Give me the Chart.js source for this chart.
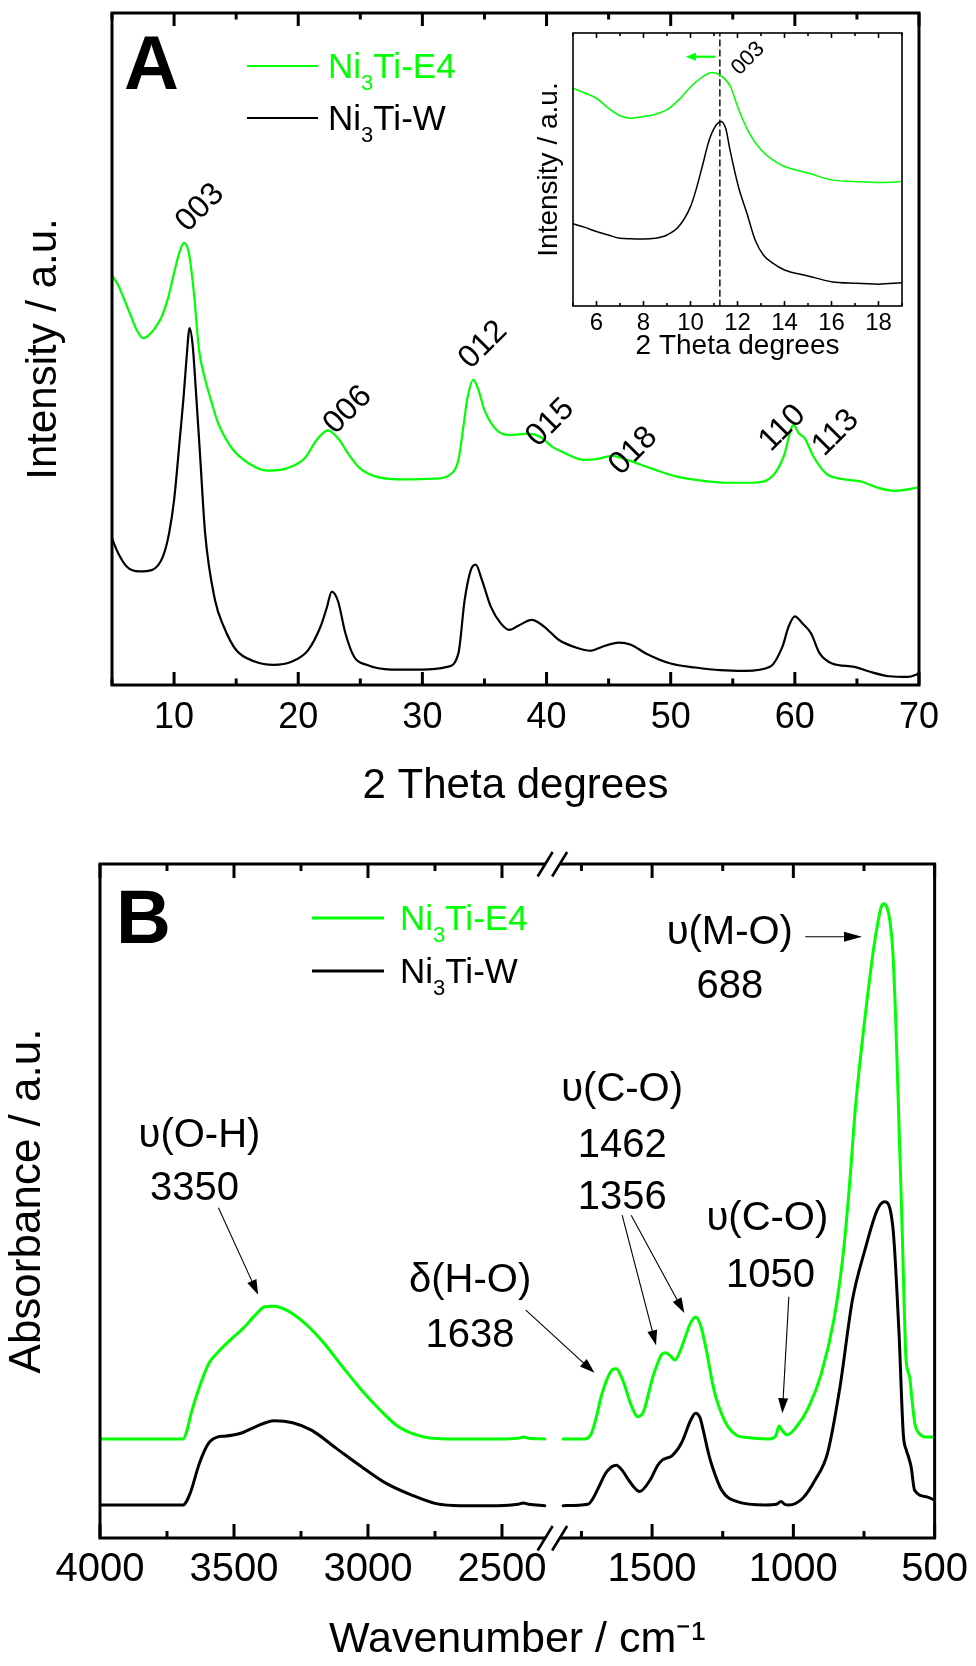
<!DOCTYPE html>
<html>
<head>
<meta charset="utf-8">
<title>Ni3Ti XRD and FTIR</title>
<script src="https://cdn.jsdelivr.net/npm/chart.js@4.4.1/dist/chart.umd.min.js"></script>
<style>
  html, body { margin: 0; padding: 0; background: #fff; }
  #page { position: relative; width: 976px; height: 1666px; overflow: hidden; background: #fff; }
  #page canvas { position: absolute; display: block; }
</style>
</head>
<body>
<div id="page">
  <canvas id="chartA" width="976" height="830" style="left:0px;top:0px"></canvas>
  <canvas id="chartInset" width="400" height="360" style="left:520px;top:20px"></canvas>
  <canvas id="chartB" width="976" height="836" style="left:0px;top:830px"></canvas>
</div>
<script>
// ================= DATA =================
const seriesNames = ['Ni₃Ti-E4', 'Ni₃Ti-W'];

// Panel A : XRD (2 theta, intensity a.u.)
const xrdE4Theta = [5,5.5,6,6.5,7,7.5,8,8.5,9,9.5,10,10.4,10.8,11.2,11.6,12,12.5,13,13.5,14,14.75,16,17.5,19,20.5,21.5,22.4,23.3,24,25,26.5,28.5,31,32.3,32.9,33.3,33.6,34.1,34.5,35,36,37,38.5,39.5,40.5,41.5,43,44,45.3,46.5,48.5,50.5,52.5,54.5,56.6,58.3,59.1,59.9,60.3,60.8,61.5,62.5,64,65.3,66.6,68,70];
const xrdE4Int = [61.0,59.5,57.3,55.0,52.8,51.6,52.1,53.2,54.8,57.5,61.3,64.2,65.8,64.2,58.3,50.0,45.5,42.2,39.2,37.2,35.0,33.0,31.9,32.2,33.7,36.5,37.9,36.5,34.5,32.2,30.9,30.6,30.7,31.4,33.5,38.4,42.4,45.4,44.0,40.9,37.9,37.2,37.4,36.9,35.4,34.5,33.5,33.6,34.1,33.5,32.2,31.0,30.4,30.1,30.1,31.3,34.0,38.7,37.5,36.7,34.0,31.5,30.6,30.3,29.4,28.9,29.4];
const xrdWTheta = [5,5.5,6.2,7.2,8.2,9.1,9.6,10,10.5,10.75,11,11.25,11.5,11.75,12.1,12.5,13.3,14,15,16.5,18,19.5,20.8,21.8,22.3,22.7,23.2,23.8,24.5,25.5,27.5,30,32,32.9,33.4,33.9,34.3,34.8,35.5,36.3,37,37.8,38.8,39.8,41,42.5,43.5,44.5,45.8,46.8,48,50,52,54,56,58,59,59.5,60,60.6,61.3,62,63,64.8,66,67.6,69.1,70];
const xrdWInt = [21.8,19.6,17.6,16.9,17.1,19.1,22.6,27.5,37.4,42.5,48.5,53.1,50.5,44.0,34.0,22.6,12.6,8.7,5.2,3.5,3.0,3.5,5.2,8.7,11.5,13.9,12.5,7.7,4.2,3.0,2.3,2.3,2.7,4.7,12.6,17.1,17.9,15.6,11.7,9.2,8.2,8.9,9.7,8.7,6.7,5.5,5.1,5.7,6.3,6.0,4.7,3.2,2.6,2.2,2.1,2.7,5.7,8.7,10.2,9.2,7.7,4.7,3.2,2.7,2.0,1.3,1.2,1.7];
const xrdTickLabels = [10,20,30,40,50,60,70];
const xrdMinorTicks = [5,15,25,35,45,55,65];
const hklLabels = ['003','006','012','015','018','110','113'];

// Inset : 003 reflection
const insetE4Theta = [5,5.5,6,6.5,7,7.5,8,8.5,9,9.5,10,10.5,10.9,11.3,11.7,12,12.5,13,13.5,14,15,16,17,18,19];
const insetE4Int = [79.8,78.0,76.1,72.5,69.7,68.8,69.4,70.2,71.9,75.5,80.2,83.8,85.5,84.3,80.4,73.1,63.3,57.2,53.5,51.1,48.7,46.2,45.6,45.2,45.6];
const insetWTheta = [5,5.5,6,6.5,7,7.5,8,8.5,9,9.5,10,10.25,10.5,10.8,11.1,11.3,11.5,11.68,12.04,12.4,12.75,13.1,13.5,14,15,16,17,18,19];
const insetWInt = [30.1,28.8,27.3,26.0,24.8,24.6,24.5,24.8,26.0,29.1,36.4,43.0,51.1,60.9,66.4,67.6,65.0,57.2,43.7,34.0,24.2,18.7,15.7,13.2,11.0,8.9,8.3,8.0,8.5];
const insetPeakTheta = 11.25;
const insetTickLabels = [6,8,10,12,14,16,18];
const insetMinorTicks = [5,7,9,11,13,15,17,19];

// Panel B : FTIR (wavenumber cm-1, absorbance a.u.), broken axis
const irE4HighWn = [4000,3690,3675,3660,3629,3594,3559,3513,3466,3420,3385,3350,3304,3234,3164,3095,3025,2955,2886,2793,2700,2515,2440,2420,2400,2340];
const irE4HighAbs = [14.7,14.7,16.0,18.5,22.4,25.9,27.6,29.4,31.1,33.1,34.3,34.4,33.8,31.8,28.9,25.4,22.0,19.0,16.5,15.0,14.7,14.7,14.8,15.0,14.8,14.7];
const irE4LowWn = [1815,1738,1715,1700,1680,1660,1640,1627,1612,1595,1575,1551,1530,1518,1500,1485,1465,1451,1435,1419,1400,1386,1365,1346,1328,1308,1290,1275,1250,1231,1200,1165,1088,1062,1050,1040,1022,989,945,901,857,824,802,780,747,714,700,690,680,668,658,648,637,626,615,608,602,595,588,580,570,554,530,500];
const irE4LowAbs = [14.7,14.7,15.5,17.5,21.0,23.5,25.0,25.1,24.2,22.4,19.8,18.0,18.8,20.5,23.5,25.4,27.3,27.5,27.0,26.4,27.8,29.4,31.8,32.8,31.5,27.9,23.8,21.0,18.0,16.5,15.2,14.9,14.7,15.2,16.6,16.0,15.3,16.5,19.5,24.4,32.3,42.0,52.0,64.0,77.0,88.0,91.5,93.5,94.1,93.5,91.5,87.0,76.0,61.0,46.0,35.0,27.0,24.8,23.8,20.5,17.0,15.5,15.0,15.0];
const irWHighWn = [4000,3690,3664,3629,3594,3560,3536,3478,3420,3350,3281,3211,3118,3025,2932,2839,2746,2654,2515,2440,2420,2400,2340];
const irWHighAbs = [4.9,4.9,6.6,11.1,14.1,15.0,15.1,15.5,16.5,17.4,17.1,16.0,13.3,10.6,8.1,6.4,5.1,4.8,4.8,5.0,5.2,5.0,4.8];
const irWLowWn = [1815,1727,1710,1694,1661,1627,1605,1583,1544,1507,1480,1463,1430,1396,1363,1346,1330,1319,1300,1287,1254,1199,1099,1060,1044,1030,1016,967,923,879,835,791,747,703,677,648,626,611,600,593,583,571,527,500];
const irWLowAbs = [4.8,5.0,5.8,7.1,9.8,10.8,10.0,8.6,6.9,8.6,10.8,11.6,12.2,14.1,17.5,18.5,17.8,16.0,12.5,10.6,7.1,5.4,4.9,5.0,5.4,5.0,4.9,5.9,8.6,12.6,22.4,35.3,42.7,48.7,49.9,46.2,30.3,15.5,13.0,12.1,10.5,7.1,6.1,5.6];
const irTickLabelsHigh = [4000,3500,3000,2500];
const irMinorTicksHigh = [3750,3250,2750];
const irTickLabelsLow = [1500,1000,500];
const irMinorTicksLow = [1750,1250,750];
const irRangeHigh = [2311, 4000];
const irRangeLow = [500, 1852];

// ================= HELPERS =================
const GREEN = '#00ff00';
const FONT = "'Liberation Sans', Arial, Helvetica, sans-serif";
Chart.defaults.font.family = FONT;
Chart.defaults.color = '#000';

const pts = (xs, ys) => xs.map((x, i) => ({ x: x, y: ys[i] }));
const SUB = { '₀':'0','₁':'1','₂':'2','₃':'3','₄':'4','₅':'5','₆':'6','₇':'7','₈':'8','₉':'9' };

function drawRich(ctx, text, x, baseline, size, color) {
  ctx.save();
  ctx.fillStyle = color; ctx.textAlign = 'left'; ctx.textBaseline = 'alphabetic';
  const runs = [];
  for (const ch of text) {
    const sub = !!SUB[ch];
    const c = sub ? SUB[ch] : ch;
    if (runs.length && runs[runs.length - 1].sub === sub) runs[runs.length - 1].t += c;
    else runs.push({ sub: sub, t: c });
  }
  let cx = x;
  for (const r of runs) {
    const s = r.sub ? Math.round(size * 0.62) : size;
    ctx.font = s + 'px ' + FONT;
    ctx.fillText(r.t, cx, baseline + (r.sub ? size * 0.32 : 0));
    cx += ctx.measureText(r.t).width;
  }
  ctx.restore();
}

function drawArrow(ctx, x1, y1, x2, y2, color, lw, headLen, headW) {
  const ang = Math.atan2(y2 - y1, x2 - x1);
  const c = Math.cos(ang), s = Math.sin(ang);
  ctx.save();
  ctx.strokeStyle = color; ctx.fillStyle = color; ctx.lineWidth = lw;
  ctx.beginPath(); ctx.moveTo(x1, y1); ctx.lineTo(x2 - c * headLen * 0.7, y2 - s * headLen * 0.7); ctx.stroke();
  ctx.beginPath();
  ctx.moveTo(x2, y2);
  ctx.lineTo(x2 - headLen * c + headW * s, y2 - headLen * s - headW * c);
  ctx.lineTo(x2 - headLen * c - headW * s, y2 - headLen * s + headW * c);
  ctx.closePath(); ctx.fill();
  ctx.restore();
}

function drawText(ctx, text, x, y, size, color, rot, bold) {
  ctx.save();
  ctx.translate(x, y);
  if (rot) ctx.rotate(rot);
  ctx.font = (bold ? 'bold ' : '') + size + 'px ' + FONT;
  ctx.fillStyle = color; ctx.textAlign = 'center'; ctx.textBaseline = 'middle';
  ctx.fillText(text, 0, 0);
  ctx.restore();
}

// frame + inward ticks + extras
function decoPlugin(cfg) {
  return {
    id: 'deco',
    afterDatasetsDraw(chart) {
      const ctx = chart.ctx, a = chart.chartArea;
      ctx.save();
      ctx.strokeStyle = '#000';
      ctx.lineWidth = cfg.frameWidth;
      ctx.lineJoin = 'miter';
      ctx.strokeRect(a.left, a.top, a.right - a.left, a.bottom - a.top);
      ctx.lineCap = 'butt';
      for (const t of cfg.ticks) {
        const sc = chart.scales[t.scale];
        const tk = (v, len) => {
          const px = sc.getPixelForValue(v);
          ctx.beginPath();
          ctx.moveTo(px, a.bottom); ctx.lineTo(px, a.bottom - len);
          ctx.moveTo(px, a.top); ctx.lineTo(px, a.top + len);
          ctx.stroke();
        };
        t.major.forEach(v => tk(v, cfg.majorLen));
        t.minor.forEach(v => tk(v, cfg.minorLen));
      }
      if (cfg.breakScale) {
        const bx = chart.scales[cfg.breakScale].right;
        for (const yy of [a.top, a.bottom]) {
          ctx.fillStyle = '#fff';
          ctx.fillRect(bx - 7.5, yy - cfg.frameWidth, 14.5, cfg.frameWidth * 2);
          ctx.strokeStyle = '#000'; ctx.lineWidth = 2.6;
          ctx.beginPath();
          ctx.moveTo(bx - 15, yy + 12.5); ctx.lineTo(bx, yy - 12);
          ctx.moveTo(bx - 0.5, yy + 12.5); ctx.lineTo(bx + 14.5, yy - 12);
          ctx.stroke();
        }
      }
      ctx.restore();
      if (cfg.extra) cfg.extra(chart, ctx, a);
    }
  };
}

function drawLegend(ctx, a, entries, opt) {
  entries.forEach((e, i) => {
    const y = a.top + opt.rowY[i];
    ctx.save();
    ctx.strokeStyle = e.color; ctx.lineWidth = opt.lineWidth;
    ctx.beginPath(); ctx.moveTo(a.left + opt.x0, y); ctx.lineTo(a.left + opt.x1, y); ctx.stroke();
    ctx.restore();
    drawRich(ctx, e.label, a.left + opt.tx, y + opt.size * 0.357, opt.size, e.color);
  });
}

function baseOptions(pad) {
  return {
    responsive: false,
    animation: false,
    devicePixelRatio: 1,
    layout: { padding: pad },
    plugins: { legend: { display: false }, tooltip: { enabled: false } },
    elements: { point: { radius: 0, hoverRadius: 0 }, line: { cubicInterpolationMode: 'monotone', borderCapStyle: 'round', borderJoinStyle: 'round' } },
    events: []
  };
}

const hiddenGrid = { display: false, drawTicks: false };

// ================= PANEL A =================
const hklAnno = [
  { x: 12.1, y: 71.0 }, { x: 24.0, y: 40.9 }, { x: 34.9, y: 50.6 }, { x: 40.3, y: 39.0 },
  { x: 47.0, y: 34.8 }, { x: 59.0, y: 38.2 }, { x: 63.3, y: 37.5 }
];

const optA = baseOptions({ top: 13, right: 57, left: 0, bottom: 0 });
optA.scales = {
  x: {
    type: 'linear', position: 'bottom', min: 5, max: 70,
    afterBuildTicks: s => { s.ticks = xrdTickLabels.map(v => ({ value: v })); },
    ticks: { autoSkip: false, maxRotation: 0, padding: 11, font: { size: 36 }, color: '#000', callback: v => String(v) },
    grid: hiddenGrid, border: { display: false },
    title: { display: true, text: '2 Theta degrees', font: { size: 42 }, color: '#000', padding: { top: 0, bottom: 18 } },
    afterFit: s => { s.height = 145; }
  },
  y: {
    type: 'linear', position: 'left', min: 0, max: 100,
    ticks: { display: false }, grid: hiddenGrid, border: { display: false },
    title: { display: true, text: 'Intensity / a.u.', font: { size: 42 }, color: '#000', padding: { top: 19, bottom: 0 } },
    afterFit: s => { s.width = 112; }
  }
};

new Chart(document.getElementById('chartA'), {
  type: 'line',
  data: {
    datasets: [
      { label: seriesNames[0], data: pts(xrdE4Theta, xrdE4Int), borderColor: GREEN, borderWidth: 2.2, fill: false },
      { label: seriesNames[1], data: pts(xrdWTheta, xrdWInt), borderColor: '#000', borderWidth: 2.2, fill: false }
    ]
  },
  options: optA,
  plugins: [decoPlugin({
    frameWidth: 3, majorLen: 13, minorLen: 6.5,
    ticks: [{ scale: 'x', major: xrdTickLabels, minor: xrdMinorTicks }],
    extra: (chart, ctx, a) => {
      const xs = chart.scales.x, ys = chart.scales.y;
      hklLabels.forEach((t, i) => {
        drawText(ctx, t, xs.getPixelForValue(hklAnno[i].x), ys.getPixelForValue(hklAnno[i].y), 32, '#000', -Math.PI / 4);
      });
      drawLegend(ctx, a, chart.data.datasets.map(d => ({ label: d.label, color: d.borderColor })),
        { x0: 135, x1: 206, tx: 216, rowY: [53, 105], size: 35, lineWidth: 2.2 });
      ctx.save();
      ctx.font = 'bold 76px ' + FONT; ctx.fillStyle = '#000'; ctx.textBaseline = 'alphabetic'; ctx.textAlign = 'left';
      ctx.fillText('A', a.left + 12, a.top + 76);
      ctx.restore();
    }
  })]
});

// ================= INSET =================
const optI = baseOptions({ top: 13, right: 18, left: 0, bottom: 0 });
optI.scales = {
  x: {
    type: 'linear', position: 'bottom', min: 5, max: 19,
    afterBuildTicks: s => { s.ticks = insetTickLabels.map(v => ({ value: v })); },
    ticks: { autoSkip: false, maxRotation: 0, padding: 2.6, font: { size: 24 }, color: '#000', callback: v => String(v) },
    grid: hiddenGrid, border: { display: false },
    title: { display: true, text: '2 Theta degrees', font: { size: 28 }, color: '#000', padding: { top: 0, bottom: 17 } },
    afterFit: s => { s.height = 74; }
  },
  y: {
    type: 'linear', position: 'left', min: 0, max: 100,
    ticks: { display: false }, grid: hiddenGrid, border: { display: false },
    title: { display: true, text: 'Intensity / a.u.', font: { size: 28 }, color: '#000', padding: { top: 12.2, bottom: 0 } },
    afterFit: s => { s.width = 53; }
  }
};

new Chart(document.getElementById('chartInset'), {
  type: 'line',
  data: {
    datasets: [
      { label: seriesNames[0], data: pts(insetE4Theta, insetE4Int), borderColor: GREEN, borderWidth: 1.5, fill: false },
      { label: seriesNames[1], data: pts(insetWTheta, insetWInt), borderColor: '#000', borderWidth: 1.5, fill: false },
      { label: '003 position', data: [{ x: insetPeakTheta, y: 0 }, { x: insetPeakTheta, y: 100 }], borderColor: '#000', borderWidth: 1.4, borderDash: [6, 4], fill: false }
    ]
  },
  options: optI,
  plugins: [decoPlugin({
    frameWidth: 1.6, majorLen: 5, minorLen: 3,
    ticks: [{ scale: 'x', major: insetTickLabels, minor: insetMinorTicks }],
    extra: (chart, ctx, a) => {
      const xs = chart.scales.x, ys = chart.scales.y;
      drawArrow(ctx, xs.getPixelForValue(11.05), ys.getPixelForValue(91.3), xs.getPixelForValue(9.8), ys.getPixelForValue(91.3), GREEN, 2.2, 10, 4);
      drawText(ctx, '003', xs.getPixelForValue(12.45), ys.getPixelForValue(90.6), 22, '#000', -Math.PI / 4);
    }
  })]
});

// ================= PANEL B =================
const irAnnoText = [
  { t: 'υ(M-O)', ax: 'xR', x: 1225, y: 89.7 },
  { t: '688', ax: 'xR', x: 1225, y: 81.8 },
  { t: 'υ(C-O)', ax: 'xR', x: 1606, y: 66.4 },
  { t: '1462', ax: 'xR', x: 1606, y: 58.2 },
  { t: '1356', ax: 'xR', x: 1606, y: 50.4 },
  { t: 'υ(O-H)', ax: 'xL', x: 3629, y: 59.6 },
  { t: '3350', ax: 'xL', x: 3647, y: 51.8 },
  { t: 'υ(C-O)', ax: 'xR', x: 1092, y: 47.4 },
  { t: '1050', ax: 'xR', x: 1081, y: 38.9 },
  { t: 'δ(H-O)', ax: 'xL', x: 2619, y: 38.1 },
  { t: '1638', ax: 'xL', x: 2619, y: 30.0 }
];
const irArrows = [
  { from: { ax: 'xR', x: 958, y: 89.2 }, to: { ax: 'xR', x: 757, y: 89.2 } },
  { from: { ax: 'xL', x: 3558, y: 49.0 }, to: { ax: 'xL', x: 3410, y: 36.1 } },
  { from: { ax: 'xR', x: 1606, y: 47.9 }, to: { ax: 'xR', x: 1486, y: 28.6 } },
  { from: { ax: 'xR', x: 1574, y: 47.9 }, to: { ax: 'xR', x: 1386, y: 33.4 } },
  { from: { ax: 'xL', x: 2411, y: 33.8 }, to: { ax: 'xR', x: 1704, y: 24.5 } },
  { from: { ax: 'xR', x: 1016, y: 35.8 }, to: { ax: 'xR', x: 1039, y: 18.5 } }
];

const optB = baseOptions({ top: 34, right: 37, left: 0, bottom: 0 });
const irTickCommon = { autoSkip: false, maxRotation: 0, padding: 8, font: { size: 40 }, color: '#000', callback: v => String(v) };
optB.scales = {
  xL: {
    type: 'linear', position: 'bottom', stack: 'wn', stackWeight: 455,
    min: irRangeHigh[0], max: irRangeHigh[1], reverse: true,
    afterBuildTicks: s => { s.ticks = irTickLabelsHigh.map(v => ({ value: v })); },
    ticks: irTickCommon, grid: hiddenGrid, border: { display: false },
    afterFit: s => { s.height = 70; }
  },
  xR: {
    type: 'linear', position: 'bottom', stack: 'wn', stackWeight: 384,
    min: irRangeLow[0], max: irRangeLow[1], reverse: true,
    afterBuildTicks: s => { s.ticks = irTickLabelsLow.map(v => ({ value: v })); },
    ticks: irTickCommon, grid: hiddenGrid, border: { display: false },
    afterFit: s => { s.height = 70; }
  },
  xT: {
    type: 'linear', position: 'bottom', min: 0, max: 1,
    ticks: { display: false }, grid: hiddenGrid, border: { display: false },
    title: { display: true, text: 'Wavenumber / cm⁻¹', font: { size: 43 }, color: '#000', padding: { top: 0, bottom: 0 } },
    afterFit: s => { s.height = 58; }
  },
  y: {
    type: 'linear', position: 'left', min: 0, max: 100,
    ticks: { display: false }, grid: hiddenGrid, border: { display: false },
    title: { display: true, text: 'Absorbance / a.u.', font: { size: 44 }, color: '#000', padding: { top: 1, bottom: 0 } },
    afterFit: s => { s.width = 100; }
  }
};

new Chart(document.getElementById('chartB'), {
  type: 'line',
  data: {
    datasets: [
      { label: seriesNames[0], data: pts(irE4HighWn, irE4HighAbs), xAxisID: 'xL', yAxisID: 'y', borderColor: GREEN, borderWidth: 3, fill: false },
      { label: seriesNames[0], data: pts(irE4LowWn, irE4LowAbs), xAxisID: 'xR', yAxisID: 'y', borderColor: GREEN, borderWidth: 3, fill: false },
      { label: seriesNames[1], data: pts(irWHighWn, irWHighAbs), xAxisID: 'xL', yAxisID: 'y', borderColor: '#000', borderWidth: 3, fill: false },
      { label: seriesNames[1], data: pts(irWLowWn, irWLowAbs), xAxisID: 'xR', yAxisID: 'y', borderColor: '#000', borderWidth: 3, fill: false }
    ]
  },
  options: optB,
  plugins: [decoPlugin({
    frameWidth: 3, majorLen: 14, minorLen: 7, breakScale: 'xL',
    ticks: [
      { scale: 'xL', major: irTickLabelsHigh, minor: irMinorTicksHigh },
      { scale: 'xR', major: irTickLabelsLow, minor: irMinorTicksLow }
    ],
    extra: (chart, ctx, a) => {
      const ys = chart.scales.y;
      const P = p => [chart.scales[p.ax].getPixelForValue(p.x), ys.getPixelForValue(p.y)];
      irAnnoText.forEach(n => { const q = P(n); drawText(ctx, n.t, q[0], q[1], 40, '#000', 0); });
      irArrows.forEach((r, i) => {
        const f = P(r.from), t = P(r.to);
        drawArrow(ctx, f[0], f[1], t[0], t[1], '#000', 1.1, i === 0 ? 18 : 15, 5);
      });
      drawLegend(ctx, a, [
        { label: seriesNames[0], color: GREEN },
        { label: seriesNames[1], color: '#000' }
      ], { x0: 212, x1: 284, tx: 300, rowY: [54, 107], size: 35, lineWidth: 3 });
      ctx.save();
      ctx.font = 'bold 76px ' + FONT; ctx.fillStyle = '#000'; ctx.textBaseline = 'alphabetic'; ctx.textAlign = 'left';
      ctx.fillText('B', a.left + 16, a.top + 79);
      ctx.restore();
    }
  })]
});
</script>
</body>
</html>
